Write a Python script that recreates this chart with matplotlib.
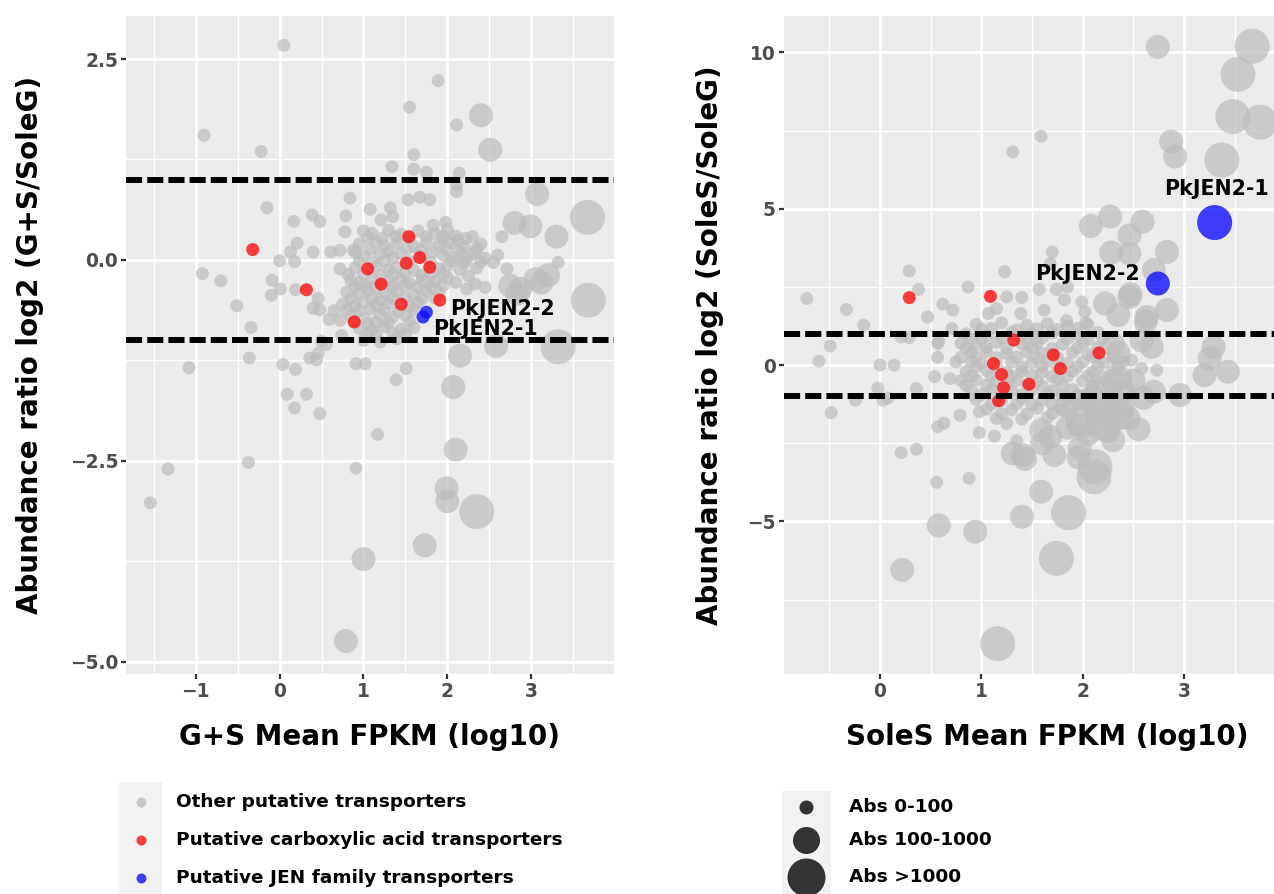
import matplotlib
matplotlib.use("Agg")
import matplotlib.pyplot as plt
from matplotlib.patches import Rectangle

plt.rcParams['font.family'] = ['DejaVu Sans']
plt.rcParams['font.weight'] = 'bold'
plt.rcParams['axes.unicode_minus'] = True

# abundance class: 0 = Abs 0-100, 1 = Abs 100-1000, 2 = Abs >1000
ABS_LABELS = ['Abs 0-100', 'Abs 100-1000', 'Abs >1000']
GROUP_LABELS = ['Other putative transporters',
                'Putative carboxylic acid transporters',
                'Putative JEN family transporters']

# ---------- left panel: G+S / SoleG ----------
gs_other = [
    (0.05, 2.67, 0), (1.89, 2.23, 0), (1.55, 1.90, 0), (2.40, 1.80, 1), (2.11, 1.68, 0),
    (2.51, 1.37, 1), (-0.90, 1.55, 0), (-0.22, 1.35, 0), (1.60, 1.31, 0), (1.34, 1.16, 0),
    (1.60, 1.13, 0), (1.75, 1.09, 0), (2.14, 1.08, 0), (2.11, 0.93, 0), (2.11, 0.85, 0),
    (3.07, 0.82, 1), (0.84, 0.77, 0), (1.53, 0.75, 0), (1.67, 0.78, 0), (1.79, 0.75, 0),
    (-0.15, 0.65, 0), (1.08, 0.63, 0), (1.32, 0.65, 0), (1.35, 0.54, 0), (1.21, 0.50, 0),
    (0.39, 0.56, 0), (0.48, 0.48, 0), (0.17, 0.48, 0), (0.79, 0.55, 0), (0.78, 0.35, 0),
    (2.80, 0.46, 1), (2.99, 0.42, 1), (3.30, 0.29, 1), (3.67, 0.53, 2), (1.98, 0.47, 0),
    (1.83, 0.43, 0), (1.95, 0.30, 0), (2.10, 0.30, 0), (2.22, 0.27, 0), (2.30, 0.29, 0),
    (2.65, 0.29, 0), (-0.09, -0.25, 0), (0.00, -0.01, 0), (-0.10, -0.44, 0), (0.01, -0.36, 0),
    (0.13, 0.10, 0), (0.21, 0.21, 0), (0.18, -0.02, 0), (0.19, -0.37, 0), (0.40, 0.10, 0),
    (0.61, 0.10, 0), (0.72, 0.12, 0), (0.91, 0.09, 0), (0.72, -0.11, 0), (0.46, -0.48, 0),
    (0.40, -0.60, 0), (0.48, -0.62, 0), (0.65, -0.63, 0), (0.59, -0.74, 0), (0.72, -0.75, 0),
    (0.74, -0.94, 0), (0.56, -1.05, 0), (0.50, -1.01, 0), (0.46, -1.16, 0), (0.44, -1.24, 0),
    (0.36, -1.22, 0), (0.04, -1.30, 0), (0.19, -1.36, 0), (0.09, -1.67, 0), (0.32, -1.67, 0),
    (0.18, -1.84, 0), (0.48, -1.91, 0), (0.91, -1.29, 0), (1.02, -1.29, 0), (1.51, -1.35, 0),
    (1.39, -1.49, 0), (2.07, -1.58, 1), (2.15, -1.19, 1), (2.58, -1.07, 1), (3.32, -1.08, 2),
    (3.68, -0.50, 2), (3.32, -0.03, 0), (3.05, -0.24, 1), (3.12, -0.28, 1), (3.20, -0.19, 1),
    (2.87, -0.36, 1), (2.75, -0.32, 1), (2.83, -0.42, 1), (2.71, -0.11, 0), (2.60, 0.06, 0),
    (2.55, -0.03, 0), (2.35, 0.14, 0), (2.23, 0.01, 0), (2.23, -0.36, 0), (2.33, -0.30, 0),
    (2.45, -0.34, 0), (-0.92, -0.17, 0), (-0.70, -0.26, 0), (-0.51, -0.57, 0), (-0.34, -0.84, 0),
    (-0.36, -1.22, 0), (-1.08, -1.34, 0), (-1.54, -3.02, 0), (-1.33, -2.60, 0), (-0.37, -2.52, 0),
    (0.91, -2.59, 0), (1.17, -2.17, 0), (2.10, -2.36, 1), (1.99, -2.84, 1), (2.00, -3.00, 1),
    (2.35, -3.13, 2), (1.73, -3.55, 1), (1.00, -3.72, 1), (0.79, -4.74, 1),
    # dense cloud
    (1.00, 0.36, 0), (1.10, 0.33, 0), (1.30, 0.37, 0), (1.45, 0.32, 0), (1.65, 0.36, 0),
    (1.85, 0.33, 0), (2.00, 0.38, 0), (0.95, 0.20, 0), (1.15, 0.22, 0), (1.25, 0.18, 0),
    (1.40, 0.21, 0), (1.60, 0.17, 0), (1.75, 0.22, 0), (1.90, 0.19, 0), (2.05, 0.21, 0),
    (2.20, 0.16, 0), (2.40, 0.20, 0), (1.00, 0.05, 0), (1.20, 0.07, 0), (1.35, 0.03, 0),
    (1.45, 0.08, 0), (1.70, 0.04, 0), (1.95, 0.06, 0), (2.10, 0.03, 0), (2.30, 0.07, 0),
    (2.45, 0.02, 0), (0.90, -0.10, 0), (1.15, -0.08, 0), (1.30, -0.12, 0), (1.40, -0.09, 0),
    (1.60, -0.13, 0), (1.90, -0.11, 0), (2.00, -0.07, 0), (2.15, -0.12, 0), (2.35, -0.10, 0),
    (0.85, -0.25, 0), (0.95, -0.28, 0), (1.10, -0.23, 0), (1.30, -0.26, 0), (1.45, -0.24, 0),
    (1.55, -0.29, 0), (1.70, -0.25, 0), (1.85, -0.27, 0), (2.00, -0.22, 0), (2.10, -0.28, 0),
    (0.80, -0.40, 0), (0.95, -0.42, 0), (1.05, -0.38, 0), (1.25, -0.41, 0), (1.40, -0.39, 0),
    (1.60, -0.43, 0), (1.75, -0.38, 0), (1.90, -0.41, 0), (0.75, -0.55, 0), (0.90, -0.57, 0),
    (1.00, -0.53, 0), (1.15, -0.56, 0), (1.30, -0.54, 0), (1.55, -0.58, 0), (1.65, -0.53, 0),
    (0.85, -0.70, 0), (1.00, -0.72, 0), (1.20, -0.68, 0), (1.35, -0.71, 0), (1.50, -0.69, 0),
    (0.95, -0.85, 0), (1.10, -0.87, 0), (1.25, -0.83, 0), (1.45, -0.86, 0), (1.60, -0.84, 0),
    (1.00, -1.00, 0), (1.20, -1.02, 0), (1.40, -0.98, 0),
    (1.05, 0.28, 0), (1.22, 0.27, 0), (1.38, 0.29, 0), (1.55, 0.26, 0), (1.75, 0.29, 0),
    (1.95, 0.27, 0), (2.12, 0.25, 0), (0.88, 0.12, 0), (1.08, 0.13, 0), (1.30, 0.11, 0),
    (1.52, 0.14, 0), (1.68, 0.12, 0), (1.82, 0.10, 0), (2.00, 0.13, 0), (2.15, 0.11, 0),
    (2.35, 0.12, 0), (0.95, -0.02, 0), (1.10, -0.03, 0), (1.25, -0.01, 0), (1.55, -0.02, 0),
    (1.80, -0.03, 0), (2.05, -0.01, 0), (2.20, -0.04, 0), (2.40, -0.02, 0), (0.82, -0.18, 0),
    (1.00, -0.17, 0), (1.20, -0.19, 0), (1.35, -0.18, 0), (1.50, -0.16, 0), (1.70, -0.19, 0),
    (1.80, -0.17, 0), (1.95, -0.18, 0), (2.25, -0.20, 0), (0.90, -0.33, 0), (1.02, -0.32, 0),
    (1.15, -0.34, 0), (1.35, -0.33, 0), (1.50, -0.31, 0), (1.65, -0.34, 0), (1.80, -0.33, 0),
    (1.95, -0.32, 0), (0.85, -0.48, 0), (1.10, -0.47, 0), (1.20, -0.49, 0), (1.35, -0.48, 0),
    (1.50, -0.46, 0), (1.70, -0.48, 0), (1.85, -0.47, 0), (0.80, -0.62, 0), (0.95, -0.63, 0),
    (1.08, -0.61, 0), (1.25, -0.62, 0), (1.42, -0.64, 0), (1.60, -0.62, 0), (0.90, -0.78, 0),
    (1.05, -0.79, 0), (1.15, -0.77, 0), (1.30, -0.78, 0), (1.55, -0.76, 0), (1.05, -0.92, 0),
    (1.15, -0.93, 0), (1.35, -0.91, 0), (1.50, -0.92, 0),
]
gs_carb = [(-0.32, 0.13), (1.54, 0.29), (1.67, 0.03), (1.51, -0.04), (1.79, -0.09),
           (1.05, -0.11), (1.21, -0.30), (0.32, -0.37), (1.45, -0.55), (1.91, -0.50),
           (0.89, -0.77)]
gs_jen = [(1.75, -0.65, 0), (1.71, -0.71, 0)]
gs_jen_names = ['PkJEN2-2', 'PkJEN2-1']

# ---------- right panel: SoleS / SoleG ----------
ss_other = [
    (2.74, 10.18, 1), (3.67, 10.20, 2), (3.53, 9.30, 2), (3.48, 7.95, 2), (3.75, 7.77, 2),
    (2.87, 7.15, 1), (2.91, 6.67, 1), (3.37, 6.56, 2), (1.59, 7.32, 0), (1.31, 6.82, 0),
    (2.27, 4.75, 1), (2.08, 4.45, 1), (2.59, 4.59, 1), (2.46, 4.15, 1), (2.28, 3.60, 1),
    (2.46, 3.57, 1), (2.83, 3.62, 1), (2.70, 3.04, 1), (1.70, 3.62, 0), (1.68, 3.25, 0),
    (1.23, 2.99, 0), (0.29, 3.01, 0), (0.87, 2.50, 0), (2.47, 2.27, 1), (-0.72, 2.13, 0),
    (-0.33, 1.78, 0), (-0.16, 1.28, 0), (-0.49, 0.61, 0), (-0.60, 0.13, 0), (-0.48, -1.52, 0),
    (0.00, 0.00, 0), (0.14, 0.00, 0), (-0.02, -0.74, 0), (-0.24, -1.12, 0), (0.03, -1.12, 0),
    (0.08, -1.05, 0), (0.36, -0.75, 0), (0.38, 2.42, 0), (0.47, 1.54, 0), (0.62, 1.95, 0),
    (0.72, 1.76, 0), (0.71, 1.17, 0), (0.57, 0.69, 0), (0.54, -0.37, 0), (0.69, -0.43, 0),
    (0.21, 0.90, 0), (0.29, 0.88, 0), (0.79, -1.60, 0), (0.57, -1.97, 0), (0.63, -1.86, 0),
    (0.21, -2.80, 0), (0.36, -2.69, 0), (0.98, -2.16, 0), (1.13, -2.27, 0), (0.98, -1.49, 0),
    (1.07, 1.65, 0), (1.15, 1.81, 0), (1.25, 2.18, 0), (1.40, 2.16, 0), (1.39, 1.65, 0),
    (1.57, 2.42, 0), (1.74, 2.42, 0), (1.85, 2.50, 0), (1.62, 1.76, 0), (1.82, 2.09, 0),
    (1.99, 2.02, 0), (2.02, 1.70, 0), (1.84, 1.42, 0), (2.03, 1.35, 0), (2.22, 1.97, 1),
    (2.46, 2.18, 1), (2.83, 1.76, 1), (2.63, 1.54, 1), (2.35, 1.60, 1), (2.68, 0.58, 1),
    (2.58, 0.79, 1), (3.29, 0.58, 1), (3.25, 0.21, 1), (3.43, -0.21, 1), (3.20, -0.32, 1),
    (2.96, -0.96, 1), (2.70, -0.85, 1), (2.60, -1.05, 1), (2.48, 0.16, 0), (2.58, -0.11, 0),
    (2.73, -0.16, 0), (2.13, -0.48, 0), (2.25, -0.59, 0), (2.30, -0.50, 1), (2.37, -0.43, 1),
    (2.17, -1.44, 2), (2.33, -1.54, 2), (2.00, -1.76, 2), (2.20, -1.86, 2), (2.12, -3.25, 2),
    (1.97, -2.66, 1), (1.72, -2.88, 1), (1.59, -2.08, 1), (1.68, -2.29, 1), (1.31, -2.82, 1),
    (1.41, -2.88, 1), (1.35, -2.42, 0), (1.25, -1.86, 0), (1.84, -1.33, 1), (0.56, -3.75, 0),
    (0.88, -3.62, 0), (0.58, -5.13, 1), (0.94, -5.33, 1), (0.22, -6.55, 1), (1.16, -8.91, 2),
    (1.40, -4.85, 1), (1.59, -4.05, 1), (1.86, -4.72, 2), (1.74, -6.18, 2), (2.11, -3.57, 2),
    (1.43, -3.00, 1), (1.96, -2.95, 1), (2.62, 1.39, 1), (0.58, 0.75, 0), (0.57, 0.25, 0),
    # dense cloud
    (0.95, 1.30, 0), (1.20, 1.35, 0), (1.45, 1.28, 0), (1.65, 1.33, 0), (1.85, 1.25, 0),
    (2.05, 1.30, 0), (0.85, 1.00, 0), (1.05, 0.95, 0), (1.30, 1.05, 0), (1.50, 0.98, 0),
    (1.70, 1.02, 0), (1.95, 0.96, 0), (2.15, 1.04, 0), (0.80, 0.70, 0), (0.95, 0.66, 0),
    (1.15, 0.73, 0), (1.40, 0.68, 0), (1.55, 0.72, 0), (1.80, 0.67, 0), (2.00, 0.71, 0),
    (2.30, 0.65, 1), (0.90, 0.40, 0), (1.05, 0.43, 0), (1.25, 0.37, 0), (1.45, 0.42, 0),
    (1.60, 0.38, 0), (1.90, 0.41, 0), (2.05, 0.36, 0), (2.35, 0.40, 1), (0.75, 0.10, 0),
    (0.90, 0.12, 0), (1.00, 0.07, 0), (1.30, 0.11, 0), (1.50, 0.08, 0), (1.65, 0.13, 0),
    (1.85, 0.06, 0), (2.00, 0.10, 0), (2.20, 0.08, 0), (2.40, 0.12, 0), (0.85, -0.20, 0),
    (1.05, -0.17, 0), (1.25, -0.22, 0), (1.40, -0.18, 0), (1.60, -0.23, 0), (1.90, -0.19, 0),
    (2.10, -0.21, 0), (2.30, -0.16, 0), (0.80, -0.50, 0), (0.95, -0.47, 0), (1.15, -0.52, 0),
    (1.35, -0.48, 0), (1.55, -0.53, 0), (1.75, -0.46, 0), (2.00, -0.51, 0), (2.50, -0.49, 1),
    (0.90, -0.80, 0), (1.10, -0.77, 0), (1.30, -0.83, 0), (1.50, -0.79, 0), (1.70, -0.82, 0),
    (1.90, -0.78, 0), (2.15, -0.81, 1), (2.40, -0.84, 1), (0.95, -1.10, 0), (1.20, -1.13, 0),
    (1.40, -1.08, 0), (1.60, -1.12, 0), (1.85, -1.07, 0), (2.05, -1.11, 1), (2.30, -1.05, 1),
    (1.05, -1.40, 0), (1.30, -1.43, 0), (1.55, -1.38, 0), (1.80, -1.42, 0), (2.40, -1.30, 1),
    (1.15, -1.70, 0), (1.40, -1.73, 0), (1.65, -1.68, 0), (1.95, -1.90, 1), (2.25, -2.10, 1),
    (1.60, -2.50, 1),
    (1.00, 1.15, 0), (1.10, 1.17, 0), (1.35, 1.13, 0), (1.55, 1.16, 0), (1.75, 1.14, 0),
    (1.95, 1.17, 0), (0.90, 0.85, 0), (1.00, 0.83, 0), (1.20, 0.86, 0), (1.45, 0.84, 0),
    (1.60, 0.87, 0), (1.85, 0.85, 0), (2.05, 0.83, 0), (2.20, 0.86, 0), (0.85, 0.55, 0),
    (1.05, 0.57, 0), (1.25, 0.54, 0), (1.50, 0.56, 0), (1.70, 0.53, 0), (1.95, 0.55, 0),
    (2.15, 0.57, 0), (0.80, 0.25, 0), (0.95, 0.27, 0), (1.15, 0.24, 0), (1.35, 0.26, 0),
    (1.55, 0.23, 0), (1.75, 0.25, 0), (2.10, 0.27, 0), (2.30, 0.24, 0), (0.95, -0.05, 0),
    (1.15, -0.03, 0), (1.40, -0.06, 0), (1.60, -0.04, 0), (1.75, -0.07, 0), (1.95, -0.05, 0),
    (2.15, -0.03, 0), (2.35, -0.06, 0), (0.90, -0.35, 0), (1.10, -0.34, 0), (1.30, -0.36, 0),
    (1.50, -0.33, 0), (1.70, -0.37, 0), (1.85, -0.35, 0), (2.05, -0.34, 0), (2.20, -0.36, 0),
    (0.85, -0.65, 0), (1.05, -0.64, 0), (1.25, -0.66, 0), (1.45, -0.63, 0), (1.60, -0.67, 0),
    (1.80, -0.65, 0), (2.10, -0.64, 0), (1.00, -0.95, 0), (1.20, -0.94, 0), (1.40, -0.96, 0),
    (1.65, -0.93, 0), (1.80, -0.97, 0), (1.95, -0.95, 0), (1.10, -1.25, 0), (1.35, -1.24, 0),
    (1.50, -1.27, 0), (1.70, -1.25, 0), (1.95, -1.23, 0), (1.20, -1.55, 0), (1.45, -1.56, 0),
    (1.70, -1.54, 0), (2.10, -1.00, 1), (2.45, -1.70, 1), (2.30, -2.40, 1), (2.05, -2.20, 1),
    (1.85, -2.00, 1), (2.55, -2.05, 1),
]
ss_carb = [(0.29, 2.16), (1.09, 2.20), (1.32, 0.80), (1.71, 0.33), (2.16, 0.39),
           (1.12, 0.05), (1.78, -0.11), (1.20, -0.30), (1.47, -0.61), (1.22, -0.72),
           (1.17, -1.14)]
ss_jen = [(3.30, 4.56, 2), (2.74, 2.61, 1)]
ss_jen_names = ['PkJEN2-1', 'PkJEN2-2']

# ---------- styling ----------
W, H = 1274, 894
DIAM = [13, 24, 35]          # px diameter per abundance class
GREY, RED, BLUE = '#BDBDBD', '#FF1010', '#1010FF'


def msize(cls):
    return [(DIAM[c] * 0.72) ** 2 for c in cls]


def style_panel(ax, xmaj, xminor, ymaj, yminor, yticklabels):
    ax.set_facecolor('#EBEBEB')
    for s in ax.spines.values():
        s.set_visible(False)
    ax.set_xticks(xmaj)
    ax.set_xticklabels([str(v).replace('-', '\u2212') for v in xmaj])
    ax.set_xticks(xminor, minor=True)
    ax.set_yticks(ymaj)
    ax.set_yticklabels(yticklabels)
    ax.set_yticks(yminor, minor=True)
    ax.grid(which='major', color='white', lw=2.0)
    ax.grid(which='minor', color='white', lw=1.0)
    ax.set_axisbelow(True)
    ax.tick_params(which='major', length=3.5, width=1.6, color='#333333',
                   labelsize=13.4, labelcolor='#4D4D4D', pad=2)
    ax.tick_params(which='minor', length=0)
    for t in ax.get_xticklabels() + ax.get_yticklabels():
        t.set_fontweight('bold')


def draw_panel(ax, other, carb, jen):
    ox, oy, oc = zip(*other)
    ax.scatter(ox, oy, s=msize(oc), color=GREY, alpha=0.7, linewidths=0, zorder=2)
    cx, cy = zip(*carb)
    ax.scatter(cx, cy, s=msize([0] * len(cx)), color=RED, alpha=0.8, linewidths=0, zorder=3)
    jx, jy, jc = zip(*jen)
    ax.scatter(jx, jy, s=msize(jc), color=BLUE, alpha=0.8, linewidths=0, zorder=4)
    ax.axhline(1, color='black', lw=4.3, dashes=(2.7, 0.85), zorder=5)
    ax.axhline(-1, color='black', lw=4.3, dashes=(2.7, 0.85), zorder=5)


fig = plt.figure(figsize=(W / 100, H / 100), dpi=100)

ax1 = fig.add_axes([126 / W, 1 - 674 / H, 487.5 / W, 658.4 / H])
draw_panel(ax1, gs_other, gs_carb, gs_jen)
ax1.set_xlim(-1.83, 3.98)
ax1.set_ylim(-5.15, 3.04)
style_panel(ax1, [-1, 0, 1, 2, 3], [-1.5, -0.5, 0.5, 1.5, 2.5, 3.5],
            [-5.0, -2.5, 0.0, 2.5], [-3.75, -1.25, 1.25],
            ['\u22125.0', '\u22122.5', '0.0', '2.5'])
ax1.annotate(gs_jen_names[0], (gs_jen[0][0], gs_jen[0][1]), xytext=(17, 2),
             textcoords='offset points', ha='left', va='center', fontsize=14.8,
             fontweight='bold', zorder=6)
ax1.annotate(gs_jen_names[1], (gs_jen[1][0], gs_jen[1][1]), xytext=(7.5, -8.5),
             textcoords='offset points', ha='left', va='center', fontsize=14.8,
             fontweight='bold', zorder=6)
ax1.set_xlabel('G+S Mean FPKM (log10)', fontsize=20, fontweight='bold')
ax1.set_ylabel('Abundance ratio log2 (G+S/SoleG)', fontsize=20, fontweight='bold')
ax1.xaxis.set_label_coords(0.5, -(737 - 674) / 658.4)
ax1.xaxis.label.set_va('center')
ax1.yaxis.set_label_coords((30 - 126) / 487.5, 0.5)
ax1.yaxis.label.set_va('center')

ax2 = fig.add_axes([783.5 / W, 1 - 674 / H, 526.5 / W, 658.4 / H])
draw_panel(ax2, ss_other, ss_carb, ss_jen)
ax2.set_xlim(-0.95, 4.24)
ax2.set_ylim(-9.88, 11.18)
style_panel(ax2, [0, 1, 2, 3], [-0.5, 0.5, 1.5, 2.5, 3.5],
            [-5, 0, 5, 10], [-7.5, -2.5, 2.5, 7.5],
            ['\u22125', '0', '5', '10'])
ax2.annotate(ss_jen_names[0], (ss_jen[0][0], ss_jen[0][1]), xytext=(1, 24),
             textcoords='offset points', ha='center', va='center', fontsize=14.8,
             fontweight='bold', zorder=6)
ax2.annotate(ss_jen_names[1], (ss_jen[1][0], ss_jen[1][1]), xytext=(-13, 7),
             textcoords='offset points', ha='right', va='center', fontsize=14.8,
             fontweight='bold', zorder=6)
ax2.set_xlabel('SoleS Mean FPKM (log10)', fontsize=20, fontweight='bold')
ax2.set_ylabel('Abundance ratio log2 (SoleS/SoleG)', fontsize=20, fontweight='bold')
ax2.xaxis.set_label_coords(0.5, -(737 - 674) / 658.4)
ax2.xaxis.label.set_va('center')
ax2.yaxis.set_label_coords((710 - 783.5) / 526.5, 0.5)
ax2.yaxis.label.set_va('center')

# ---------- legends (pixel overlay) ----------
lg = fig.add_axes([0, 0, 1, 1], zorder=-1)
lg.set_xlim(0, W)
lg.set_ylim(H, 0)
lg.axis('off')

lg.add_patch(Rectangle((119, 782), 43, 112, color='#F2F2F2', lw=0))
for yk, col, a, lab in zip([801.7, 840, 878], [GREY, RED, BLUE], [0.8, 0.8, 0.8], GROUP_LABELS):
    lg.scatter([140.7], [yk], s=(10 * 0.72) ** 2, color=col, alpha=a, linewidths=0)
    lg.text(176, yk, lab, fontsize=13.3, fontweight='bold', va='center', ha='left')

lg.add_patch(Rectangle((781.7, 790.7), 49, 104, color='#F2F2F2', lw=0))
for yk, d, lab in zip([807, 840, 876.7], [14, 27, 38], ABS_LABELS):
    lg.scatter([806], [yk], s=(d * 0.72) ** 2, color='#333333', linewidths=0)
    lg.text(849, yk, lab, fontsize=13.3, fontweight='bold', va='center', ha='left')

fig.savefig('out.png', dpi=100)
